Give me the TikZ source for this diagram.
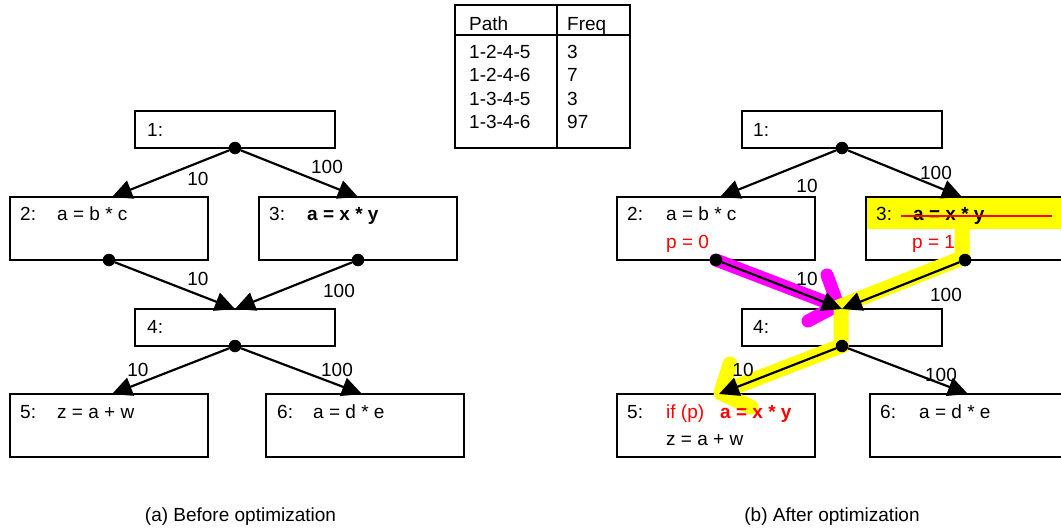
\documentclass[tikz,border=0pt]{standalone}
\usepackage{fontspec}
\setmainfont{Liberation Sans}
\usetikzlibrary{arrows.meta,calc}
\definecolor{hlyellow}{RGB}{255,255,0}
\definecolor{hlmagenta}{RGB}{255,0,255}
\definecolor{hlred}{RGB}{255,0,0}
\tikzset{
  blk/.style={draw=black, line width=2pt, minimum width=198pt, minimum height=63pt, inner sep=0pt, outer sep=0pt},
  blks/.style={blk, minimum width=200pt, minimum height=37pt},
  txt/.style={anchor=base west, inner sep=0pt, font=\fontsize{19}{22}\selectfont},
  lbl/.style={inner sep=0pt, font=\fontsize{19}{22}\selectfont},
  dotn/.style={circle, fill=black, minimum size=12.5pt, inner sep=0pt},
  flow/.style={line width=2.2pt, -{Triangle[length=20pt,width=19pt]}},
  hly/.style={draw=hlyellow, line width=15pt},
  hlm/.style={draw=hlmagenta, line width=13pt, line cap=round, line join=round},
  redt/.style={text=hlred},
}
\begin{document}
\begin{tikzpicture}[x=1pt,y=-1pt]
\useasboundingbox (0,0) rectangle (1061,531);
\clip (0,0) rectangle (1061,531);

% ---------- table ----------
\node[draw, line width=2pt, minimum width=175pt, minimum height=143pt, inner sep=0pt] (tab) at (542.5,76.5) {};
\coordinate (h1) at (455,35);
\coordinate (h2) at (630,35);
\coordinate (v1) at (557,5);
\coordinate (v2) at (557,148);
\draw[line width=2pt] (h1) -- (h2);
\draw[line width=2pt] (v1) -- (v2);
\node[txt] (tph) at (469,30) {Path};
\node[txt] (tfh) at (567,30) {Freq};
\node[txt] (tp1) at (469,58.3) {1-2-4-5};
\node[txt] (tf1) at (567,58.3) {3};
\node[txt] (tp2) at (469,81.7) {1-2-4-6};
\node[txt] (tf2) at (567,81.7) {7};
\node[txt] (tp3) at (469,105) {1-3-4-5};
\node[txt] (tf3) at (567,105) {3};
\node[txt] (tp4) at (469,128.3) {1-3-4-6};
\node[txt] (tf4) at (567,128.3) {97};

% ---------- left graph ----------
\node[blks] (a1) at (235,129.5) {};
\node[blk]  (a2) at (109,228.5) {};
\node[blk]  (a3) at (358,228.5) {};
\node[blks] (a4) at (235,327.5) {};
\node[blk]  (a5) at (109,425.5) {};
\node[blk]  (a6) at (365,425.5) {};

\node[txt] (a1l) at (147,136) {1:};
\node[txt] (a2l) at (20,220.5) {2:};
\node[txt] (a2c) at (57,220.5) {a = b * c};
\node[txt] (a3l) at (269,220.5) {3:};
\node[txt] (a3c) at (307,220.5) {\bfseries a = x * y};
\node[txt] (a4l) at (147,333) {4:};
\node[txt] (a5l) at (20,418) {5:};
\node[txt] (a5c) at (57,418) {z = a + w};
\node[txt] (a6l) at (277,418) {6:};
\node[txt] (a6c) at (313,418) {a = d * e};

\node[dotn] (a1d) at (a1.south) {};
\node[dotn] (a2d) at (a2.south) {};
\node[dotn] (a3d) at (a3.south) {};
\node[dotn] (a4d) at (a4.south) {};

\coordinate (a2t) at ($(a2.north)+(3,0)$);
\coordinate (a3t) at ($(a3.north)+(0,0)$);
\coordinate (a5t) at ($(a5.north)+(3,0)$);
\coordinate (a6t) at ($(a6.north)+(-3,0)$);

\draw[flow] (a1d) -- (a2t);
\draw[flow] (a1d) -- (a3t);
\draw[flow] (a2d) -- (a4.north);
\draw[flow] (a3d) -- (a4.north);
\draw[flow] (a4d) -- (a5t);
\draw[flow] (a4d) -- (a6t);

\node[lbl] (a12) at (198,179) {10};
\node[lbl] (a13) at (327,167) {100};
\node[lbl] (a24) at (198,279) {10};
\node[lbl] (a34) at (339,291) {100};
\node[lbl] (a45) at (138,370) {10};
\node[lbl] (a46) at (337,370) {100};

% ---------- right graph ----------
\node[blks] (b1) at (842,129.5) {};
\node[blk]  (b2) at (716,228.5) {};
\node[blk]  (b3) at (965,228.5) {};
\node[blks] (b4) at (842,327.5) {};
\node[blk]  (b5) at (716,425.5) {};
\node[blk]  (b6) at (969,425.5) {};

\node[dotn] (b1d) at (b1.south) {};
\node[dotn] (b2d) at (b2.south) {};
\node[dotn] (b3d) at (b3.south) {};
\node[dotn] (b4d) at (b4.south) {};

% highlights
\fill[hlyellow] (867,198) rectangle (1061,229);
\draw[hlm] (b2d.center) -- (836,306);
\draw[hlm] (827,275) -- (838,305) -- (808,321);
\draw[hly, line join=miter] (962,228) -- (962,258) -- (841,306) -- (841,346) -- (722,392);
\draw[hly, line cap=round, line join=round] (730,364) -- (721,393) -- (751,407);

\node[txt] (b1l) at (753,136) {1:};
\node[txt] (b2l) at (627,220.5) {2:};
\node[txt] (b2c) at (666,220.5) {a = b * c};
\node[txt, redt] (b2p) at (666,248) {p = 0};
\node[txt] (b3l) at (876,220.5) {3:};
\node[txt] (b3c) at (913,220.5) {\bfseries a = x * y};
\node[txt, redt] (b3p) at (912,248) {p = 1};
\node[txt] (b4l) at (753,333) {4:};
\node[txt] (b5l) at (627,418) {5:};
\node[txt, redt] (b5i) at (666,418) {if (p)};
\node[txt, redt] (b5c) at (720,418) {\bfseries a = x * y};
\node[txt] (b5z) at (666,445) {z = a + w};
\node[txt] (b6l) at (880,418) {6:};
\node[txt] (b6c) at (919,418) {a = d * e};

\coordinate (s1) at (901,216);
\coordinate (s2) at (1052,216);
\draw[hlred, line width=2pt] (s1) -- (s2);

\coordinate (b2t) at ($(b2.north)+(4,0)$);
\coordinate (b3t) at ($(b3.north)+(-3,0)$);
\coordinate (b5t) at ($(b5.north)+(3,0)$);
\coordinate (b6t) at ($(b6.north)+(-1,0)$);

\draw[flow] (b1d) -- (b2t);
\draw[flow] (b1d) -- (b3t);
\draw[flow] (b2d) -- (b4.north);
\draw[flow] (b3d) -- (b4.north);
\draw[flow] (b4d) -- (b5t);
\draw[flow] (b4d) -- (b6t);

\node[dotn] at (b2d) {};
\node[dotn] at (b3d) {};
\node[dotn] at (b4d) {};

\node[lbl] (b12) at (807,186) {10};
\node[lbl] (b13) at (936,173) {100};
\node[lbl] (b24) at (807,279) {10};
\node[lbl] (b34) at (946,295) {100};
\node[lbl] (b45) at (743,370) {10};
\node[lbl] (b46) at (941,375) {100};

% captions
\node[lbl] (capa) at (240.5,517) {(a) Before optimization};
\node[lbl] (capb) at (832,517) {(b) After optimization};
\end{tikzpicture}
\end{document}
